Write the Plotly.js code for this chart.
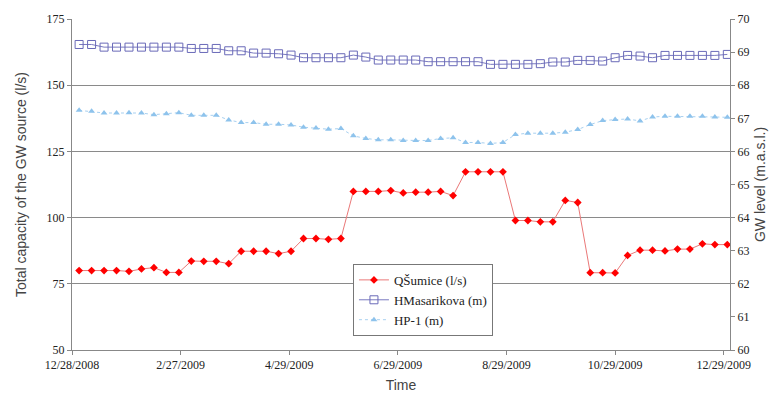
<!DOCTYPE html>
<html><head><meta charset="utf-8">
<script src="https://cdn.plot.ly/plotly-3.0.1.min.js"></script>
<style>body{margin:0;background:#fff}#c{width:775px;height:401px}</style>
</head><body><div id="c"></div>
<script>
const dates = ['2009-01-01','2009-01-08','2009-01-15','2009-01-22','2009-01-29','2009-02-05','2009-02-12','2009-02-19','2009-02-26',
'2009-03-05','2009-03-12','2009-03-19','2009-03-26','2009-04-02','2009-04-09','2009-04-16','2009-04-23','2009-04-30',
'2009-05-07','2009-05-14','2009-05-21','2009-05-28','2009-06-04','2009-06-11','2009-06-18','2009-06-25',
'2009-07-02','2009-07-09','2009-07-16','2009-07-23','2009-07-30','2009-08-06','2009-08-13','2009-08-20','2009-08-27',
'2009-09-03','2009-09-10','2009-09-17','2009-09-24','2009-10-01','2009-10-08','2009-10-15','2009-10-22','2009-10-29',
'2009-11-05','2009-11-12','2009-11-19','2009-11-26','2009-12-03','2009-12-10','2009-12-17','2009-12-24','2009-12-31'];
const qSumice = [80,80,80,80,79.7,80.6,81.1,79.3,79.3,83.6,83.5,83.5,82.6,87.3,87.3,87.3,86.4,87.3,
92.1,92.1,91.8,92.1,109.9,109.9,109.9,110.2,109.3,109.6,109.6,109.9,108.3,117.3,117.3,117.3,117.3,98.9,98.9,
98.4,98.4,106.5,105.7,79.2,79.2,79.1,85.7,87.7,87.7,87.4,88.1,88.1,90.1,89.8,89.8];
const hMasarikova = [69.23,69.23,69.15,69.15,69.15,69.15,69.15,69.15,69.15,69.11,69.11,69.11,69.04,69.04,68.97,68.97,68.95,68.91,
68.83,68.83,68.83,68.83,68.91,68.85,68.76,68.76,68.76,68.76,68.71,68.71,68.71,68.71,68.71,68.63,68.63,68.63,68.63,
68.65,68.70,68.70,68.75,68.75,68.73,68.83,68.90,68.88,68.83,68.90,68.90,68.90,68.90,68.90,68.93];
const hp1 = [67.24,67.21,67.16,67.16,67.17,67.16,67.11,67.14,67.17,67.09,67.09,67.09,66.95,66.87,66.87,66.82,66.82,66.80,
66.73,66.71,66.67,66.69,66.47,66.39,66.35,66.35,66.33,66.33,66.33,66.39,66.41,66.27,66.27,66.24,66.27,66.51,66.55,
66.55,66.55,66.58,66.66,66.81,66.93,66.96,66.98,66.92,67.04,67.06,67.06,67.06,67.06,67.04,67.03];
const tickDates = ['2008-12-28','2009-02-27','2009-04-29','2009-06-29','2009-08-29','2009-10-29','2009-12-29'];
const tickLabels = ['12/28/2008','2/27/2009','4/29/2009','6/29/2009','8/29/2009','10/29/2009','12/29/2009'];
const names = ['QŠumice (l/s)','HMasarikova (m)','HP-1 (m)'];

const serif = "'Liberation Serif', 'Times New Roman', serif";
const sans = "'Liberation Sans', Arial, sans-serif";

const traces = [
 {x:dates,y:qSumice,name:names[0],type:'scatter',mode:'lines+markers',yaxis:'y',
  line:{color:'#ea7878',width:1},marker:{symbol:'diamond',size:6,color:'#ff0000'}},
 {x:dates,y:hMasarikova,name:names[1],type:'scatter',mode:'lines+markers',yaxis:'y2',
  line:{color:'#7a7ac0',width:1},marker:{symbol:'square-open',size:8,color:'#6a6ab8',line:{width:1}}},
 {x:dates,y:hp1,name:names[2],type:'scatter',mode:'lines+markers',yaxis:'y2',
  line:{color:'#a8d0f0',width:1,dash:'dot'},marker:{symbol:'triangle-up',size:6,color:'#8ec3ec'}}
];

const layout = {
 width:775,height:401,
 margin:{l:72,r:45,t:19,b:51},
 paper_bgcolor:'#fff',plot_bgcolor:'#fff',
 showlegend:true,
 legend:{x:0.427,y:0.26,xanchor:'left',yanchor:'top',bgcolor:'#fff',bordercolor:'#777',borderwidth:1,
  font:{family:serif,size:13,color:'#222'},tracegroupgap:0},
 xaxis:{type:'date',range:['2008-12-28','2010-01-01 12:00'],tickvals:tickDates,ticktext:tickLabels,
  showgrid:false,zeroline:false,showline:true,linecolor:'#888',linewidth:1,ticks:'outside',ticklen:4,tickcolor:'#888',
  tickfont:{family:serif,size:12,color:'#222'},
  title:{text:'Time',font:{family:sans,size:14,color:'#444'},standoff:8}},
 yaxis:{range:[50,175],tickvals:[50,75,100,125,150,175],showgrid:true,gridcolor:'#8a8a8a',gridwidth:1,
  zeroline:false,showline:true,linecolor:'#888',linewidth:1,ticks:'outside',ticklen:4,tickcolor:'#888',
  tickfont:{family:serif,size:12,color:'#222'},
  title:{text:'Total capacity of the GW source (l/s)',font:{family:sans,size:14,color:'#444'},standoff:16}},
 yaxis2:{range:[60,70],dtick:1,overlaying:'y',side:'right',showgrid:false,zeroline:false,showline:true,
  linecolor:'#888',linewidth:1,ticks:'outside',ticklen:4,tickcolor:'#888',
  tickfont:{family:serif,size:12,color:'#222'},
  title:{text:'GW level (m.a.s.l.)',font:{family:sans,size:14,color:'#444'},standoff:6}}
};
Plotly.newPlot('c',traces,layout,{displayModeBar:false,staticPlot:true});
</script></body></html>
